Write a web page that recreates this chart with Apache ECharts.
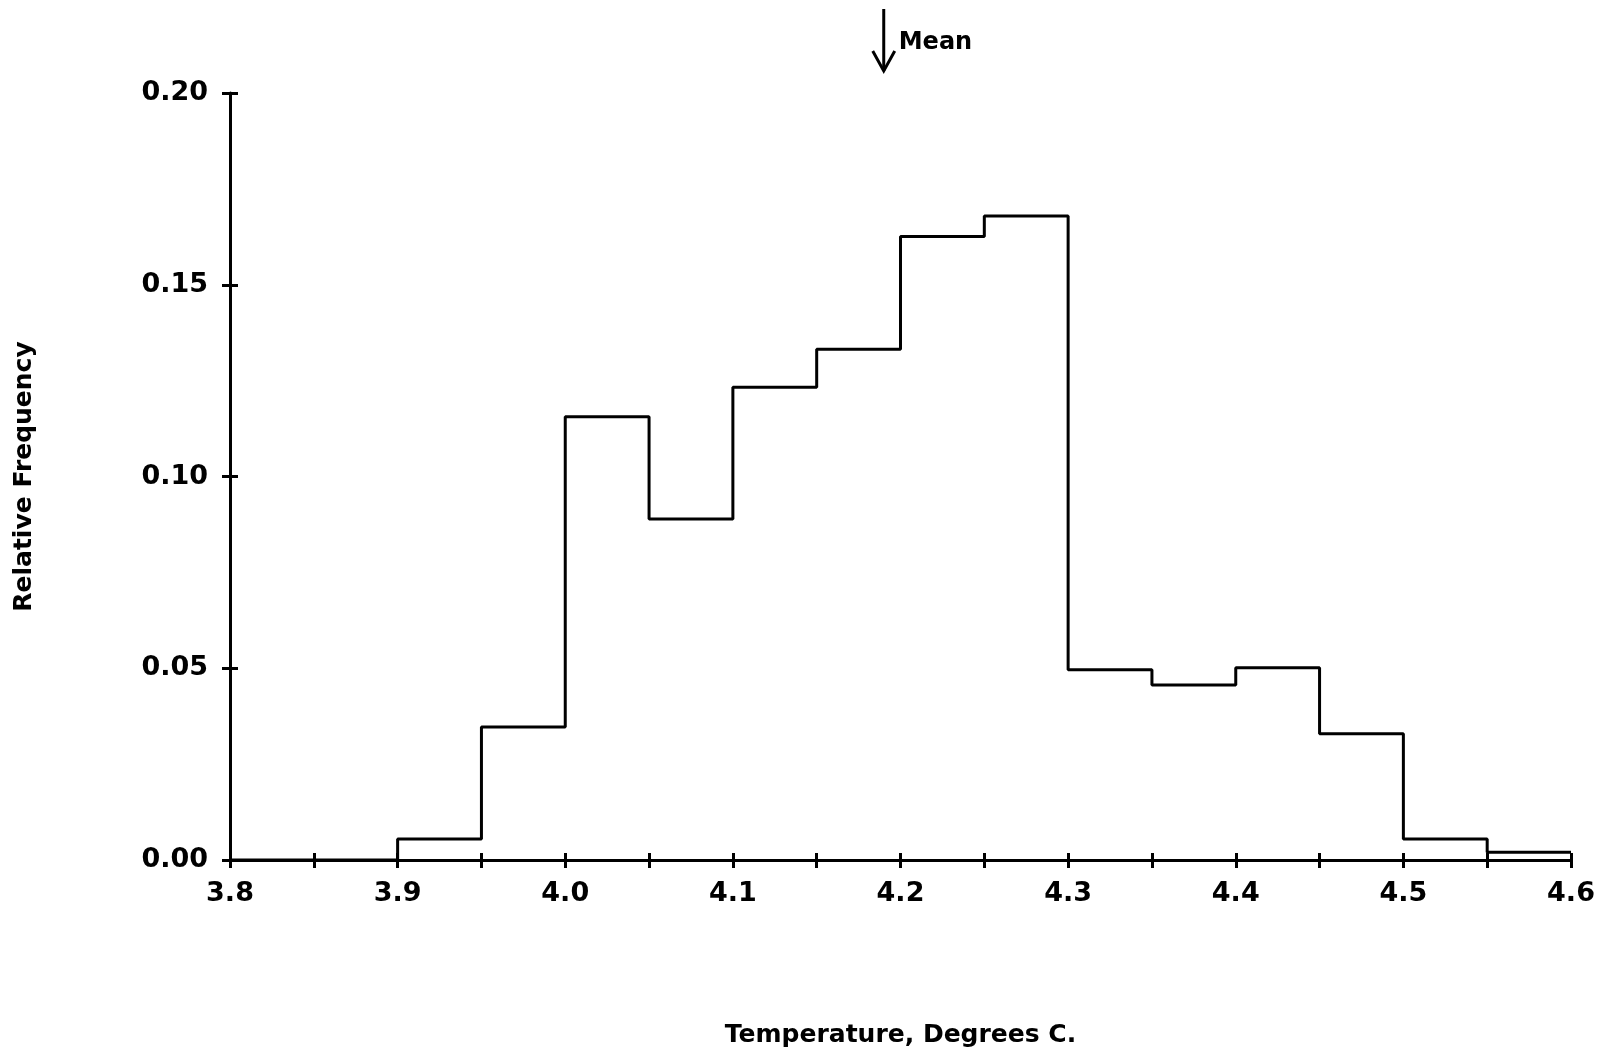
<!DOCTYPE html>
<html>
<head>
<meta charset="utf-8">
<script src="https://cdn.jsdelivr.net/npm/echarts@6/dist/echarts.min.js"></script>
<style>
html,body{margin:0;padding:0;background:#fff;}
#chart{width:1598px;height:1060px;}
</style>
</head>
<body>
<div id="chart"></div>
<script>
// Histogram bin edges (°C) and relative frequencies
const binEdges = [3.80,3.85,3.90,3.95,4.00,4.05,4.10,4.15,4.20,4.25,4.30,4.35,4.40,4.45,4.50,4.55,4.60];
const relFreq  = [0.0000,0.0000,0.0055,0.0347,0.1156,0.0889,0.1233,0.1332,0.1626,0.1679,0.0496,0.0456,0.0501,0.0329,0.0055,0.0020];
const meanTemp = 4.19;
const yTicks = [0.00,0.05,0.10,0.15,0.20];
const xLabelValues = [3.8,3.9,4.0,4.1,4.2,4.3,4.4,4.5,4.6];

const FONT = 'DejaVu Sans';
const stepData = relFreq.map((v,i)=>[binEdges[i], v]);
stepData.push([binEdges[binEdges.length-1], relFreq[relFreq.length-1]]);

const chart = echarts.init(document.getElementById('chart'), null, {renderer:'canvas'});
const axisLineStyle = {color:'#000', width:3};
const isLabel = v => xLabelValues.some(x => Math.abs(x - v) < 1e-6);

chart.setOption({
  backgroundColor:'#fff',
  animation:false,
  grid:{left:230, right:27, top:93, bottom:200},
  xAxis:[{
    type:'value', min:3.8, max:4.6, interval:0.05,
    name:'Temperature, Degrees C.', nameLocation:'middle', nameGap:163,
    nameTextStyle:{fontFamily:FONT, fontWeight:'bold', fontSize:25, color:'#000'},
    axisLine:{show:true, lineStyle:axisLineStyle},
    axisTick:{show:true, length:8, lineStyle:{color:'#000', width:3}},
    axisLabel:{fontFamily:FONT, fontWeight:'bold', fontSize:27, color:'#000', margin:20,
      formatter: v => isLabel(v) ? v.toFixed(1) : ''},
    splitLine:{show:false}
  },{
    type:'value', position:'bottom', min:3.8, max:4.6, interval:0.05,
    axisLine:{show:false},
    axisTick:{show:true, inside:true, length:7, lineStyle:{color:'#000', width:3}},
    axisLabel:{show:false}, splitLine:{show:false}
  }],
  yAxis:[{
    type:'value', min:0, max:0.20, interval:0.05,
    name:'Relative Frequency', nameLocation:'middle', nameGap:193,
    nameTextStyle:{fontFamily:FONT, fontWeight:'bold', fontSize:25, color:'#000'},
    axisLine:{show:true, lineStyle:axisLineStyle},
    axisTick:{show:true, length:8, lineStyle:{color:'#000', width:3}},
    axisLabel:{fontFamily:FONT, fontWeight:'bold', fontSize:27, color:'#000', margin:22,
      formatter: v => v.toFixed(2)},
    splitLine:{show:false}
  },{
    type:'value', position:'left', min:0, max:0.20, interval:0.05,
    axisLine:{show:false},
    axisTick:{show:true, inside:true, length:8, lineStyle:{color:'#000', width:3}},
    axisLabel:{show:false}, splitLine:{show:false}
  }],
  series:[{
    type:'line', step:'end', data:stepData, showSymbol:false, symbol:'none',
    lineStyle:{color:'#000', width:3}, clip:false, z:5
  }]
});

// Mean arrow annotation above the plot
const mx = chart.convertToPixel({xAxisIndex:0}, meanTemp);
const topY = 9, tipY = 71;
chart.setOption({
  graphic:[
    {type:'line', shape:{x1:mx, y1:topY, x2:mx, y2:tipY}, style:{stroke:'#000', lineWidth:3}},
    {type:'polyline', shape:{points:[[mx-11, tipY-20],[mx, tipY],[mx+11, tipY-20]]}, style:{stroke:'#000', lineWidth:3, fill:null}},
    {type:'text', x:mx+15, y:43, style:{text:'Mean', fontFamily:FONT, fontWeight:'bold', fontSize:24, fill:'#000', verticalAlign:'middle', align:'left'}}
  ]
});
</script>
</body>
</html>
